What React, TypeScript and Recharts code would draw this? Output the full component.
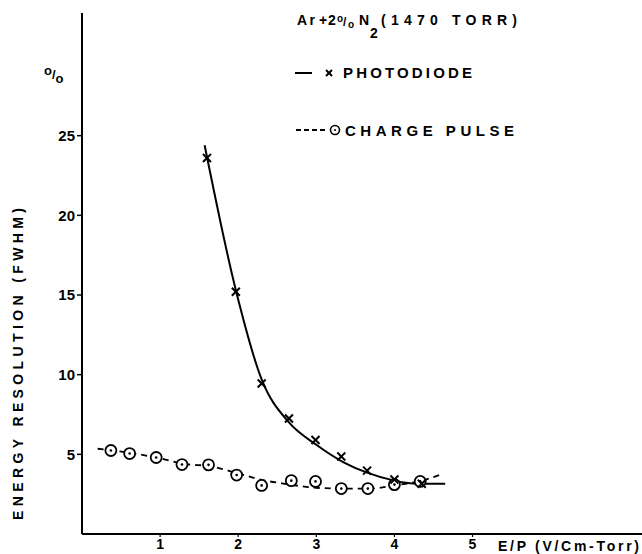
import * as React from 'react';
import { ComposedChart, Line, Scatter, XAxis, YAxis } from 'recharts';

// measured points (E/P, % FWHM)
const photodiodePts = [
  { x: 1.6, y: 23.6 },
  { x: 1.97, y: 15.2 },
  { x: 2.3, y: 9.45 },
  { x: 2.65, y: 7.25 },
  { x: 2.99, y: 5.9 },
  { x: 3.32, y: 4.86 },
  { x: 3.65, y: 3.98 },
  { x: 4.0, y: 3.42 },
  { x: 4.35, y: 3.15 },
];
const chargePts = [
  { x: 0.37, y: 5.24 },
  { x: 0.61, y: 5.05 },
  { x: 0.95, y: 4.8 },
  { x: 1.28, y: 4.36 },
  { x: 1.62, y: 4.34 },
  { x: 1.98, y: 3.7 },
  { x: 2.3, y: 3.05 },
  { x: 2.68, y: 3.35 },
  { x: 2.99, y: 3.3 },
  { x: 3.32, y: 2.85 },
  { x: 3.66, y: 2.85 },
  { x: 4.0, y: 3.1 },
  { x: 4.33, y: 3.3 },
];
// hand-drawn fitted curves
const photodiodeCurve = [
  { x: 1.57, y: 24.4 },
  { x: 1.97, y: 15.3 },
  { x: 2.3, y: 9.7 },
  { x: 2.65, y: 7.0 },
  { x: 3.0, y: 5.6 },
  { x: 3.35, y: 4.5 },
  { x: 3.65, y: 3.85 },
  { x: 4.0, y: 3.35 },
  { x: 4.3, y: 3.15 },
  { x: 4.65, y: 3.15 },
];
const chargeCurve = [
  { x: 0.2, y: 5.35 },
  { x: 0.6, y: 5.1 },
  { x: 1.0, y: 4.75 },
  { x: 1.3, y: 4.4 },
  { x: 1.65, y: 4.25 },
  { x: 2.0, y: 3.8 },
  { x: 2.3, y: 3.4 },
  { x: 2.6, y: 3.15 },
  { x: 3.0, y: 2.9 },
  { x: 3.35, y: 2.85 },
  { x: 3.7, y: 2.85 },
  { x: 4.0, y: 3.05 },
  { x: 4.35, y: 3.35 },
  { x: 4.63, y: 3.8 },
];
const xTicks = [1, 2, 3, 4, 5];
const yTicks = [5, 10, 15, 20, 25];

const FONT = '"Liberation Sans", Arial, sans-serif';

const Cross = (props: any) => {
  const { cx, cy } = props;
  const s = 4;
  return (
    <g stroke="#000" strokeWidth={2}>
      <line x1={cx - s} y1={cy - s} x2={cx + s} y2={cy + s} />
      <line x1={cx - s} y1={cy + s} x2={cx + s} y2={cy - s} />
    </g>
  );
};

const DotCircle = (props: any) => {
  const { cx, cy } = props;
  return (
    <g>
      <circle cx={cx} cy={cy} r={5.5} fill="#fff" stroke="#000" strokeWidth={1.8} />
      <circle cx={cx} cy={cy} r={1.3} fill="#000" />
    </g>
  );
};

export default function App() {
  return (
    <div style={{ position: 'absolute', left: 0, top: 0, width: 642, height: 554, background: '#fff' }}>
      <ComposedChart width={642} height={554} margin={{ top: 13, right: 0, left: 0, bottom: 0 }}>
        <XAxis
          type="number"
          dataKey="x"
          domain={[0, 7.17]}
          ticks={xTicks}
          axisLine={{ stroke: '#000', strokeWidth: 2 }}
          tickLine={{ stroke: '#000', strokeWidth: 1.2 }}
          tickSize={3}
          height={20}
          tick={{ fill: '#000', fontSize: 14, fontWeight: 700, fontFamily: FONT }}
        />
        <YAxis
          type="number"
          dataKey="y"
          domain={[0, 32.7]}
          ticks={yTicks}
          width={82}
          axisLine={{ stroke: '#000', strokeWidth: 2 }}
          tickLine={{ stroke: '#000', strokeWidth: 1.5 }}
          tickSize={5}
          tick={{ fill: '#000', fontSize: 15, fontWeight: 700, fontFamily: FONT }}
        />
        <Line
          data={photodiodeCurve}
          dataKey="y"
          type="monotone"
          stroke="#000"
          strokeWidth={2}
          dot={false}
          isAnimationActive={false}
        />
        <Line
          data={chargeCurve}
          dataKey="y"
          type="monotone"
          stroke="#000"
          strokeWidth={1.8}
          strokeDasharray="6 5"
          dot={false}
          isAnimationActive={false}
        />
        <Scatter data={chargePts} dataKey="y" shape={DotCircle} isAnimationActive={false} />
        <Scatter data={photodiodePts} dataKey="y" shape={Cross} isAnimationActive={false} />
      </ComposedChart>
      <svg
        width={642}
        height={554}
        style={{ position: 'absolute', left: 0, top: 0, pointerEvents: 'none' }}
        fontFamily={FONT}
        fontWeight={700}
        fill="#000"
      >
        {/* o/o sign */}
        <text x={44} y={75} fontSize={13}>
          <tspan>o</tspan>
          <tspan dy={4}>/</tspan>
          <tspan dy={4}>o</tspan>
        </text>
        {/* y label */}
        <text
          transform="translate(23,520) rotate(-90)"
          fontSize={14}
          textLength={312}
          lengthAdjust="spacing"
        >
          ENERGY  RESOLUTION (FWHM)
        </text>
        {/* x label */}
        <text x={498} y={551} fontSize={14} textLength={141} lengthAdjust="spacing">
          E/P (V/Cm-Torr)
        </text>
        {/* title */}
        <g fontSize={14}>
          <text x={297} y={25} textLength={18} lengthAdjust="spacing">Ar</text>
          <text x={319} y={25}>+</text>
          <text x={328} y={25}>2</text>
          <text x={337} y={22} fontSize={10}>o</text>
          <text x={343} y={26} fontSize={12}>/</text>
          <text x={348} y={28} fontSize={10}>o</text>
          <text x={359} y={25}>N</text>
          <text x={370} y={38}>2</text>
          <text x={381} y={25} textLength={136} lengthAdjust="spacing">(1470  TORR)</text>
        </g>
        {/* legend */}
        <line x1={295} y1={73} x2={312} y2={73} stroke="#000" strokeWidth={2} />
        <g stroke="#000" strokeWidth={2}>
          <line x1={326} y1={70} x2={332} y2={76} />
          <line x1={326} y1={76} x2={332} y2={70} />
        </g>
        <text x={343} y={78} fontSize={15} textLength={129} lengthAdjust="spacing">PHOTODIODE</text>
        <line x1={296} y1={130} x2={327} y2={130} stroke="#000" strokeWidth={2} strokeDasharray="5 3" />
        <circle cx={335} cy={130} r={4.5} fill="#fff" stroke="#000" strokeWidth={1.6} />
        <circle cx={335} cy={130} r={1.1} fill="#000" />
        <text x={345} y={136} fontSize={15} textLength={169} lengthAdjust="spacing">CHARGE  PULSE</text>
      </svg>
    </div>
  );
}
